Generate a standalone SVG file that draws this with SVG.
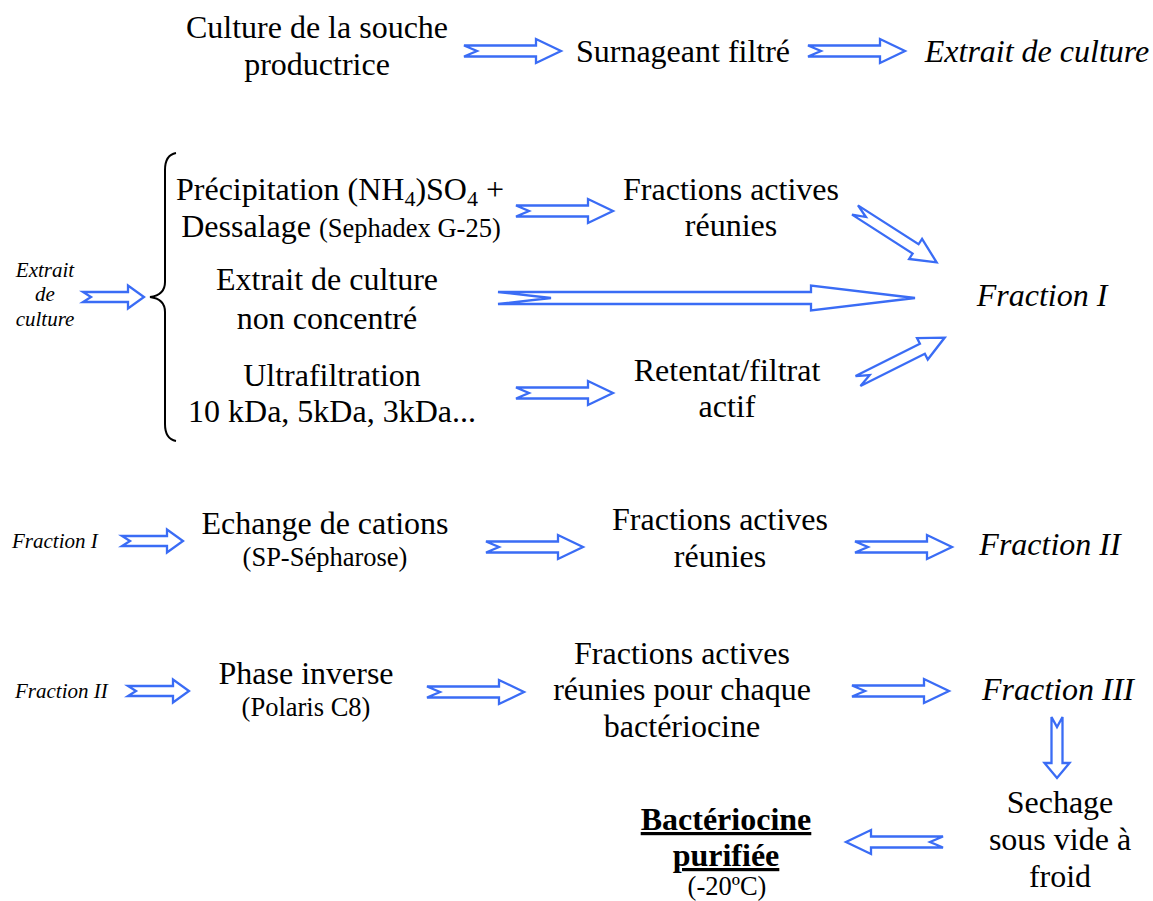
<svg xmlns="http://www.w3.org/2000/svg" xmlns:xlink="http://www.w3.org/1999/xlink" width="1153" height="901" viewBox="0 0 1153 901">
<style>
text{font-family:"Liberation Serif","Times New Roman",serif;fill:#000}
.m{font-size:32px}
.s{font-size:26.5px}
.i{font-style:italic}
.si{font-size:21px;font-style:italic}
.b{font-weight:bold;text-decoration:underline}
.a{fill:#fff;stroke:#3a6cf5;stroke-width:2.3;stroke-linejoin:miter}
</style>
<defs>
<path id="arr" d="M0,-5.5 H72 V-12 L97,0 L72,12 V5.5 H0 L13,0 Z"/>
<path id="sarr" d="M0,-5 H45 V-11.5 L61,0 L45,11.5 V5 H0 L8,0 Z"/>
</defs>
<rect width="1153" height="901" fill="#fff"/>

<g id="connectors">
<use href="#arr" class="a" transform="translate(464,51)"/>
<use href="#arr" class="a" transform="translate(808,51)"/>
<use href="#sarr" class="a" transform="translate(83,297)"/>
<use href="#arr" class="a" transform="translate(516,211)"/>
<use href="#arr" class="a" transform="translate(855,210) rotate(32.7)"/>
<path class="a" d="M0,-6 H313 V-12.5 L417,0 L313,12.5 V6 H0 L53,0 Z" transform="translate(498,298)"/>
<use href="#arr" class="a" transform="translate(516,393)"/>
<use href="#arr" class="a" transform="translate(858,381) rotate(-26.6)"/>
<use href="#sarr" class="a" transform="translate(122,541)"/>
<use href="#arr" class="a" transform="translate(486,547)"/>
<use href="#arr" class="a" transform="translate(855,547)"/>
<use href="#sarr" class="a" transform="translate(128,691)"/>
<use href="#arr" class="a" transform="translate(427,692)"/>
<use href="#arr" class="a" transform="translate(852,691)"/>
<path class="a" d="M-5.5,0 V46 H-12.5 L0,61 L12.5,46 H5.5 V0 L0,10 Z" transform="translate(1057,717)"/>
<use href="#arr" class="a" transform="translate(943,842) rotate(180)"/>
<path id="brace" d="M176,153 Q165,155 165,170 V282 Q165,295 150,297 Q165,299 165,312 V424 Q165,439 176,441" fill="none" stroke="#000" stroke-width="2"/>
</g>

<g id="n-culture"><text class="m" x="317" y="38" text-anchor="middle">Culture de la souche</text><text class="m" x="317" y="75" text-anchor="middle">productrice</text></g>
<g id="n-surnageant"><text class="m" x="683" y="62" text-anchor="middle">Surnageant filtré</text></g>
<g id="n-extrait-top"><text class="m i" x="1037" y="62" text-anchor="middle">Extrait de culture</text></g>

<g id="n-extrait-left"><text class="si" x="45" y="277" text-anchor="middle">Extrait</text><text class="si" x="45" y="301" text-anchor="middle">de</text><text class="si" x="45" y="326" text-anchor="middle">culture</text></g>

<g id="n-precip"><text class="m" x="340" y="200" text-anchor="middle">Précipitation (NH<tspan font-size="22" dy="6">4</tspan><tspan dy="-6">)SO</tspan><tspan font-size="22" dy="6">4</tspan><tspan dy="-6"> +</tspan></text>
<text x="341" y="237" text-anchor="middle"><tspan class="m">Dessalage </tspan><tspan class="s">(Sephadex G-25)</tspan></text></g>
<g id="n-fa1"><text class="m" x="731" y="200" text-anchor="middle">Fractions actives</text><text class="m" x="731" y="236" text-anchor="middle">réunies</text></g>
<g id="n-nonconc"><text class="m" x="327" y="290" text-anchor="middle">Extrait de culture</text><text class="m" x="327" y="329" text-anchor="middle">non concentré</text></g>
<g id="n-fraction1"><text class="m i" x="1042" y="306" text-anchor="middle">Fraction I</text></g>
<g id="n-ultra"><text class="m" x="332" y="386" text-anchor="middle">Ultrafiltration</text><text class="m" x="332" y="422" text-anchor="middle">10 kDa, 5kDa, 3kDa...</text></g>
<g id="n-retentat"><text class="m" x="727" y="381" text-anchor="middle">Retentat/filtrat</text><text class="m" x="727" y="417" text-anchor="middle">actif</text></g>

<g id="n-fraction1-small"><text class="si" x="12" y="548">Fraction I</text></g>
<g id="n-echange"><text class="m" x="325" y="534" text-anchor="middle">Echange de cations</text><text class="s" x="325" y="566" text-anchor="middle">(SP-Sépharose)</text></g>
<g id="n-fa2"><text class="m" x="720" y="530" text-anchor="middle">Fractions actives</text><text class="m" x="720" y="567" text-anchor="middle">réunies</text></g>
<g id="n-fraction2"><text class="m i" x="1050" y="555" text-anchor="middle">Fraction II</text></g>

<g id="n-fraction2-small"><text class="si" x="15" y="698">Fraction II</text></g>
<g id="n-phase"><text class="m" x="306" y="684" text-anchor="middle">Phase inverse</text><text class="s" x="306" y="716" text-anchor="middle">(Polaris C8)</text></g>
<g id="n-fa3"><text class="m" x="682" y="664" text-anchor="middle">Fractions actives</text><text class="m" x="682" y="700" text-anchor="middle">réunies pour chaque</text><text class="m" x="682" y="737" text-anchor="middle">bactériocine</text></g>
<g id="n-fraction3"><text class="m i" x="1058" y="700" text-anchor="middle">Fraction III</text></g>

<g id="n-sechage"><text class="m" x="1060" y="813" text-anchor="middle">Sechage</text><text class="m" x="1060" y="850" text-anchor="middle">sous vide à</text><text class="m" x="1060" y="887" text-anchor="middle">froid</text></g>
<g id="n-bact"><text class="m b" x="726" y="830" text-anchor="middle">Bactériocine</text><text class="m b" x="726" y="866" text-anchor="middle">purifiée</text><text class="s" x="727" y="895" text-anchor="middle">(-20ºC)</text></g>
</svg>
